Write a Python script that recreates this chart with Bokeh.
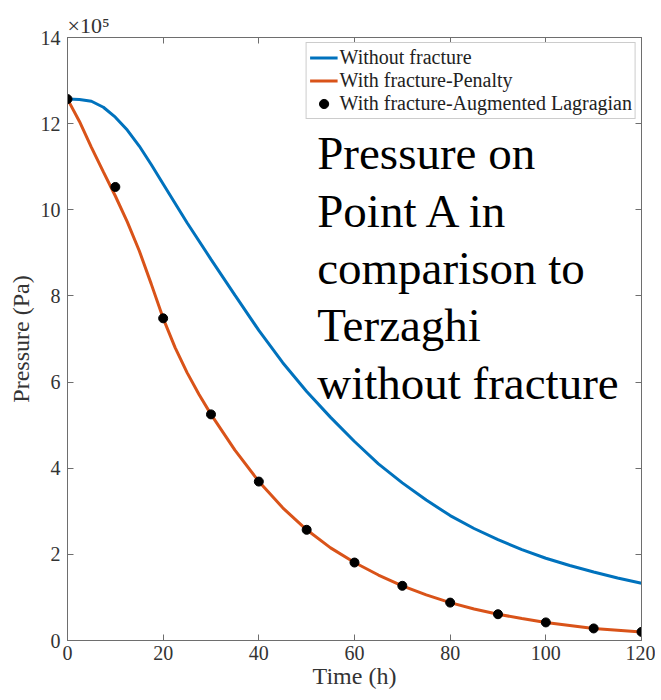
from bokeh.plotting import figure
from bokeh.models import Range1d, LinearAxis, FixedTicker, Label, Legend, LegendItem, CustomJSTickFormatter
from bokeh.embed import file_html
from bokeh.resources import INLINE

# ---- data (pressure in units of 1e5 Pa) ----
t_nofrac = [0, 2.5, 5, 7.5, 10, 12.5, 15, 17.5, 20, 25, 30, 35, 40, 45, 50, 55,
            60, 65, 70, 75, 80, 85, 90, 95, 100, 105, 110, 115, 120]
p_nofrac = [12.57, 12.56, 12.52, 12.38, 12.15, 11.85, 11.48, 11.05, 10.60,
            9.70, 8.85, 8.02, 7.20, 6.45, 5.78, 5.18, 4.62, 4.10, 3.66, 3.26,
            2.90, 2.60, 2.34, 2.11, 1.91, 1.74, 1.59, 1.45, 1.33]

t_penalty = [0, 2.5, 5, 7.5, 10, 12.5, 15, 17.5, 20, 22.5, 25, 27.5, 30, 35,
             40, 45, 50, 55, 60, 65, 70, 75, 80, 85, 90, 95, 100, 105, 110,
             115, 120]
p_penalty = [12.57, 12.05, 11.45, 10.88, 10.32, 9.72, 9.05, 8.28, 7.48, 6.80,
             6.22, 5.71, 5.25, 4.42, 3.69, 3.08, 2.57, 2.15, 1.81, 1.52, 1.27,
             1.06, 0.88, 0.73, 0.61, 0.51, 0.42, 0.35, 0.28, 0.24, 0.20]

t_aug = [0, 10, 20, 30, 40, 50, 60, 70, 80, 90, 100, 110, 120]
p_aug = [12.57, 10.53, 7.48, 5.25, 3.69, 2.57, 1.81, 1.27, 0.88, 0.61, 0.42,
         0.28, 0.20]

x_ticks = [0, 20, 40, 60, 80, 100, 120]
y_ticks = [0, 2, 4, 6, 8, 10, 12, 14]

note_lines = ["Pressure on", "Point A in", "comparison to", "Terzaghi",
              "without fracture"]

SERIF = "Liberation Serif"
AXIS_COLOR = "#6e6e6e"
TEXT_COLOR = "#333333"

p = figure(width=655, height=698, output_backend="svg", toolbar_location=None,
           x_range=Range1d(0, 120), y_range=Range1d(0, 14),
           min_border_left=67, min_border_right=14, min_border_top=37,
           min_border_bottom=58)
p.xgrid.visible = False
p.ygrid.visible = False
p.outline_line_color = AXIS_COLOR
p.background_fill_color = "white"
p.border_fill_color = "white"

# multiplier shown above the top-left corner of the frame
p.title.text = "\u00d710\u2075"
p.title.align = "left"
p.title.offset = 0
p.title.standoff = 0
p.title.text_font = SERIF
p.title.text_font_size = "22px"
p.title.text_font_style = "normal"
p.title.text_color = TEXT_COLOR

def style_axis(ax, ticks, show_labels=True):
    ax.ticker = FixedTicker(ticks=ticks)
    ax.axis_line_color = AXIS_COLOR
    ax.major_tick_line_color = AXIS_COLOR
    ax.major_tick_in = 6
    ax.major_tick_out = 0
    ax.minor_tick_line_color = None
    if show_labels:
        ax.major_label_text_font = SERIF
        ax.major_label_text_font_size = "20px"
        ax.major_label_text_color = TEXT_COLOR
        ax.axis_label_text_font = SERIF
        ax.axis_label_text_font_size = "24px"
        ax.axis_label_text_font_style = "normal"
        ax.axis_label_text_color = TEXT_COLOR
    else:
        ax.formatter = CustomJSTickFormatter(code="return ''")
        ax.major_label_text_font_size = "1px"
        ax.major_label_standoff = 0

style_axis(p.xaxis[0], x_ticks)
style_axis(p.yaxis[0], y_ticks)
p.xaxis[0].axis_label = "Time (h)"
p.yaxis[0].axis_label = "Pressure (Pa)"
p.xaxis[0].major_label_standoff = 5
p.xaxis[0].axis_label_standoff = 0
p.yaxis[0].major_label_standoff = 7
p.yaxis[0].axis_label_standoff = 4

top_ax = LinearAxis()
style_axis(top_ax, x_ticks, show_labels=False)
p.add_layout(top_ax, "above")
right_ax = LinearAxis()
style_axis(right_ax, y_ticks, show_labels=False)
p.add_layout(right_ax, "right")

r1 = p.line(t_nofrac, p_nofrac, line_color="#0072BD", line_width=3)
r2 = p.line(t_penalty, p_penalty, line_color="#D95319", line_width=3)
r3 = p.scatter(t_aug, p_aug, size=9, fill_color="black", line_color="black")

legend = Legend(items=[
    LegendItem(label="Without fracture", renderers=[r1]),
    LegendItem(label="With fracture-Penalty", renderers=[r2]),
    LegendItem(label="With fracture-Augmented Lagragian", renderers=[r3]),
], location="top_right")
legend.margin = 5
legend.padding = 3
legend.spacing = 0
legend.glyph_width = 28
legend.glyph_height = 23
legend.label_height = 23
legend.label_standoff = 2
legend.label_text_font = SERIF
legend.label_text_font_size = "20px"
legend.label_text_color = "#222222"
legend.border_line_color = "#9a9a9a"
legend.border_line_width = 1
legend.background_fill_color = "white"
legend.background_fill_alpha = 1
p.add_layout(legend)

# annotation text block
base_y = 11.31
step = 1.33
for i, line in enumerate(note_lines):
    p.add_layout(Label(x=52.2, y=base_y - i * step, text=line,
                       text_font=SERIF, text_font_size="47px",
                       text_color="black", text_baseline="alphabetic"))

open("out.html", "w").write(file_html(p, INLINE))
